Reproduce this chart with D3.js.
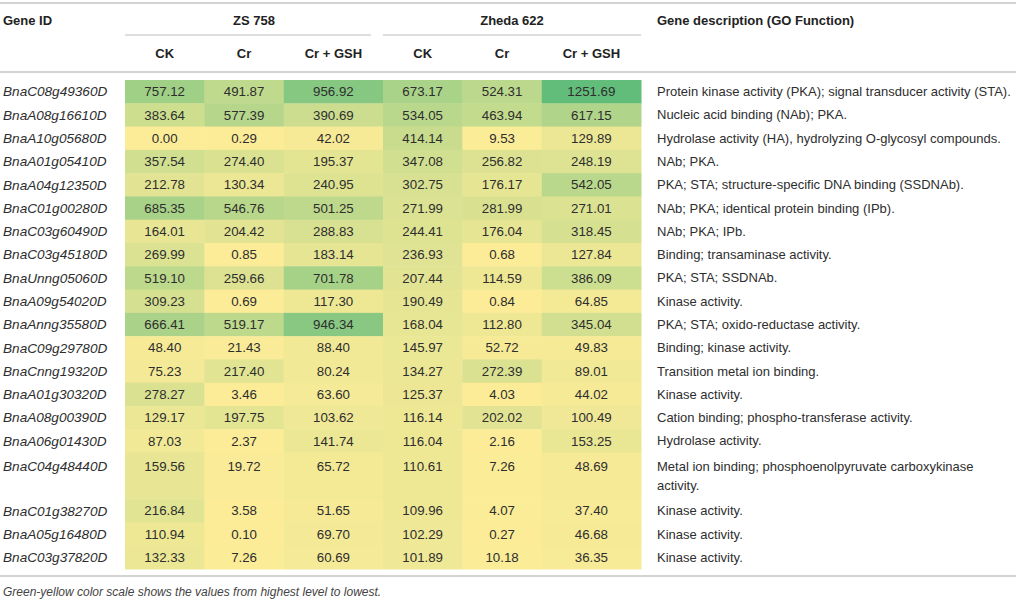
<!DOCTYPE html>
<html>
<head>
<meta charset="utf-8">
<script src="https://cdn.jsdelivr.net/npm/d3@7"></script>
<style>
  body { margin: 0; background: #fff; }
  svg text { font-family: "Liberation Sans", Arial, Helvetica, sans-serif; }
</style>
</head>
<body>
<svg width="1016" height="600"></svg>
<script>
// table values
const geneIds = [
    'BnaC08g49360D', 'BnaA08g16610D', 'BnaA10g05680D', 'BnaA01g05410D', 'BnaA04g12350D',
    'BnaC01g00280D', 'BnaC03g60490D', 'BnaC03g45180D', 'BnaUnng05060D', 'BnaA09g54020D',
    'BnaAnng35580D', 'BnaC09g29780D', 'BnaCnng19320D', 'BnaA01g30320D', 'BnaA08g00390D',
    'BnaA06g01430D', 'BnaC04g48440D', 'BnaC01g38270D', 'BnaA05g16480D', 'BnaC03g37820D'
];
const zs758CK = [757.12, 383.64, 0.00, 357.54, 212.78, 685.35, 164.01, 269.99, 519.10, 309.23,
    666.41, 48.40, 75.23, 278.27, 129.17, 87.03, 159.56, 216.84, 110.94, 132.33];
const zs758Cr = [491.87, 577.39, 0.29, 274.40, 130.34, 546.76, 204.42, 0.85, 259.66, 0.69,
    519.17, 21.43, 217.40, 3.46, 197.75, 2.37, 19.72, 3.58, 0.10, 7.26];
const zs758CrGSH = [956.92, 390.69, 42.02, 195.37, 240.95, 501.25, 288.83, 183.14, 701.78, 117.30,
    946.34, 88.40, 80.24, 63.60, 103.62, 141.74, 65.72, 51.65, 69.70, 60.69];
const zheda622CK = [673.17, 534.05, 414.14, 347.08, 302.75, 271.99, 244.41, 236.93, 207.44, 190.49,
    168.04, 145.97, 134.27, 125.37, 116.14, 116.04, 110.61, 109.96, 102.29, 101.89];
const zheda622Cr = [524.31, 463.94, 9.53, 256.82, 176.17, 281.99, 176.04, 0.68, 114.59, 0.84,
    112.80, 52.72, 272.39, 4.03, 202.02, 2.16, 7.26, 4.07, 0.27, 10.18];
const zheda622CrGSH = [1251.69, 617.15, 129.89, 248.19, 542.05, 271.01, 318.45, 127.84, 386.09, 64.85,
    345.04, 49.83, 89.01, 44.02, 100.49, 153.25, 48.69, 37.40, 46.68, 36.35];
const descriptions = [
    'Protein kinase activity (PKA); signal transducer activity (STA).',
    'Nucleic acid binding (NAb); PKA.',
    'Hydrolase activity (HA), hydrolyzing O-glycosyl compounds.',
    'NAb; PKA.',
    'PKA; STA; structure-specific DNA binding (SSDNAb).',
    'NAb; PKA; identical protein binding (IPb).',
    'NAb; PKA; IPb.',
    'Binding; transaminase activity.',
    'PKA; STA; SSDNAb.',
    'Kinase activity.',
    'PKA; STA; oxido-reductase activity.',
    'Binding; kinase activity.',
    'Transition metal ion binding.',
    'Kinase activity.',
    'Cation binding; phospho-transferase activity.',
    'Hydrolase activity.',
    'Metal ion binding; phosphoenolpyruvate carboxykinase\nactivity.',
    'Kinase activity.',
    'Kinase activity.',
    'Kinase activity.'
];
const cultivars = ['ZS 758', 'Zheda 622'];
const treatments = ['CK', 'Cr', 'Cr + GSH'];
const footnote = 'Green-yellow color scale shows the values from highest level to lowest.';

const seriesByColumn = [zs758CK, zs758Cr, zs758CrGSH, zheda622CK, zheda622Cr, zheda622CrGSH];

const $svg = d3.select('svg');
const textColor = '#2e2e2e';
const ruleColor = '#d3d3d3';

// columns: relative widths, Cr + GSH is a bit wider
const colWeights = [1, 1, 1.25, 1, 1, 1.25];
const colStart = d3.cumsum([0].concat(colWeights));
const xscale = d3.scaleLinear().domain([0, d3.sum(colWeights)]).range([125, 641]);
const columns = colWeights.map((w, i) => ({
    x0: xscale(colStart[i]),
    x1: xscale(colStart[i] + w),
    cultivar: Math.floor(i / 3),
    treatment: treatments[i % 3],
    values: seriesByColumn[i]
}));

// rows: wrapped descriptions take more room
const rows = geneIds.map((id, i) => ({id, lines: descriptions[i].split('\n')}));
const rowOffsets = d3.cumsum([0].concat(rows.map((r) => r.lines.length)));
const yscale = d3.scaleLinear().domain([0, rowOffsets[rows.length]]).range([80, 569]);
const unit = yscale(1) - yscale(0);

const allValues = seriesByColumn.flat();
const color = d3.scaleLinear()
    .domain([d3.min(allValues), d3.max(allValues)])
    .range(['#fcec98', '#62bd7b'])
    .interpolate(d3.interpolateRgb);

// header
const $head = $svg.append('g').attr('class', 'head');
$head.append('line').attr('x1', 0).attr('x2', 1016).attr('y1', 3).attr('y2', 3)
    .attr('stroke', ruleColor).attr('stroke-width', 2);
$head.append('line').attr('x1', 0).attr('x2', 1016).attr('y1', 72).attr('y2', 72)
    .attr('stroke', ruleColor).attr('stroke-width', 2);

const headText = (x, y, t, anchor) => $head.append('text')
    .attr('x', x).attr('y', y).attr('dy', '0.35em')
    .attr('text-anchor', anchor || 'start')
    .attr('font-size', 13).attr('font-weight', 'bold').attr('fill', '#222')
    .text(t);

headText(3, 20, 'Gene ID');
headText(657, 20, 'Gene description (GO Function)');

cultivars.forEach((name, g) => {
    const cols = columns.filter((c) => c.cultivar === g);
    const x0 = cols[0].x0;
    const x1 = cols[cols.length - 1].x1;
    headText((x0 + x1) / 2, 20, name, 'middle');
    $head.append('line')
        .attr('x1', x0).attr('x2', g === 0 ? x1 - 12 : x1)
        .attr('y1', 35).attr('y2', 35)
        .attr('stroke', ruleColor).attr('stroke-width', 1.5);
});

columns.forEach((c) => headText((c.x0 + c.x1) / 2, 53, c.treatment, 'middle'));

// body cells
const $body = $svg.append('g').attr('class', 'body');
rows.forEach((row, i) => {
    const top = yscale(rowOffsets[i]);
    const h = yscale(rowOffsets[i + 1]) - top;
    const first = top + unit / 2 + (row.lines.length > 1 ? 2 : 0);

    $body.append('text')
        .attr('x', 3).attr('y', first).attr('dy', '0.35em')
        .attr('font-size', 13.6).attr('font-style', 'italic').attr('fill', textColor)
        .text(row.id);

    columns.forEach((c) => {
        const v = c.values[i];
        $body.append('rect')
            .attr('x', c.x0).attr('y', top)
            .attr('width', c.x1 - c.x0 + 0.5).attr('height', h + 0.5)
            .attr('fill', color(v));
        $body.append('text')
            .attr('x', (c.x0 + c.x1) / 2).attr('y', first).attr('dy', '0.35em')
            .attr('text-anchor', 'middle')
            .attr('font-size', 13.3).attr('fill', textColor)
            .text(v.toFixed(2));
    });

    row.lines.forEach((line, k) => {
        $body.append('text')
            .attr('x', 657).attr('y', first + k * 19).attr('dy', '0.35em')
            .attr('font-size', 13).attr('fill', textColor)
            .text(line);
    });
});

// footer
$svg.append('line').attr('x1', 0).attr('x2', 1016).attr('y1', 576).attr('y2', 576)
    .attr('stroke', ruleColor).attr('stroke-width', 2);
$svg.append('text')
    .attr('x', 3).attr('y', 592).attr('dy', '0.35em')
    .attr('font-size', 12).attr('font-style', 'italic').attr('fill', '#444')
    .text(footnote);
</script>
</body>
</html>
